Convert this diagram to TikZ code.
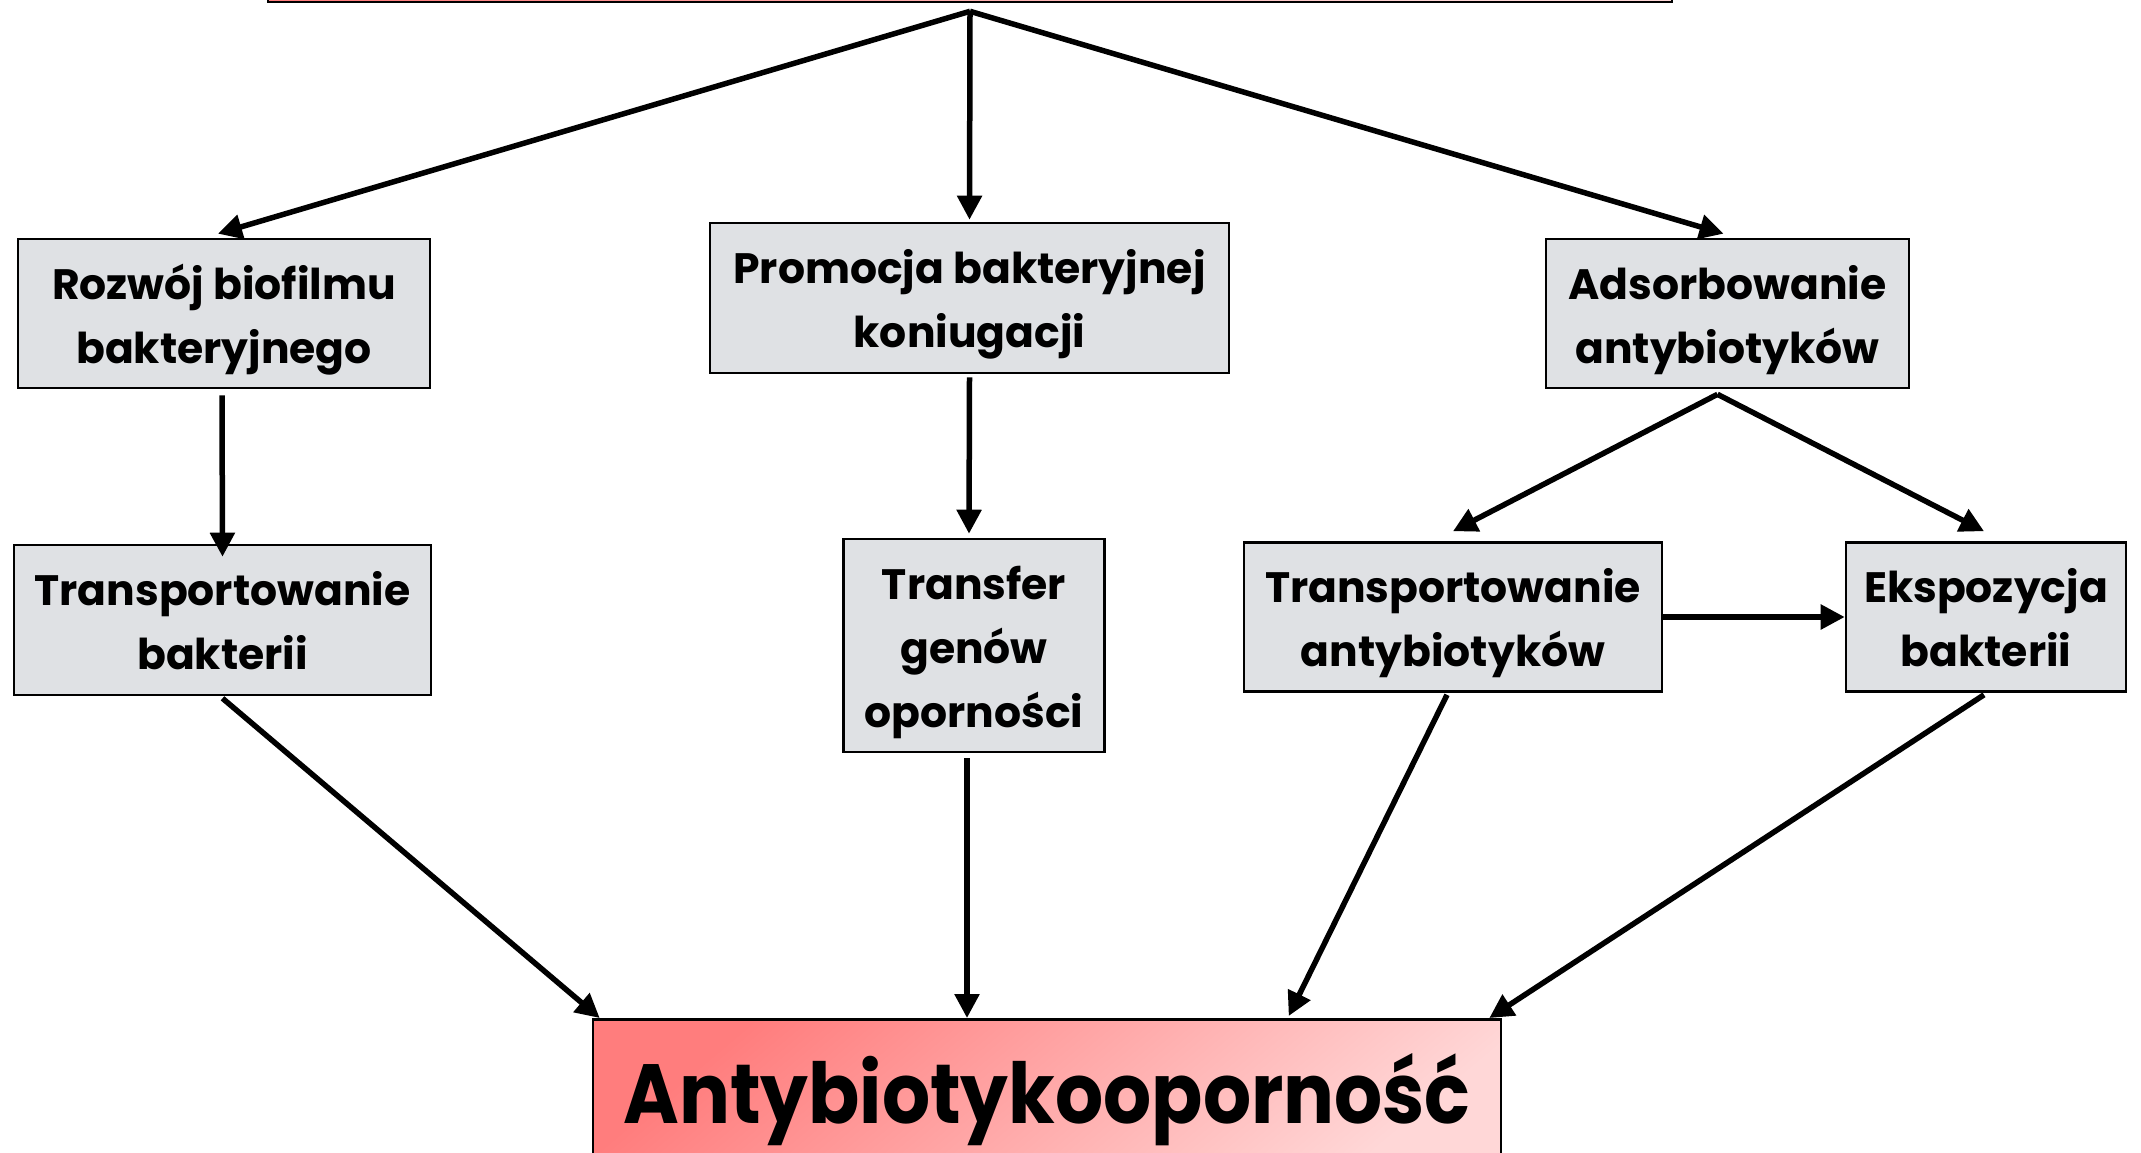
\documentclass[tikz,border=0pt]{standalone}
\usepackage{fontspec}
\setmainfont{Poppins}
\usetikzlibrary{arrows.meta,calc}
\definecolor{boxgray}{RGB}{223,225,228}
\definecolor{redA}{RGB}{255,125,125}
\definecolor{redB}{RGB}{255,215,215}
\newcommand\boxtxt[1]{\raisebox{-5pt}[\height][\depth]{\begin{tabular}{@{}c@{}}#1\end{tabular}}}
\tikzset{
  box/.style={draw=black, line width=2.6pt, fill=boxgray, inner sep=0pt,
    font=\bfseries\fontsize{42.5}{64}\selectfont},
  conn/.style={line width=5.5pt, -{Triangle[length=24pt,width=24pt]}},
  redbox/.style={draw=black, line width=2.6pt, shading=axis, top color=redA, bottom color=redB, shading angle=40}
}
\begin{document}
\begin{tikzpicture}[x=1pt,y=-1pt]
\useasboundingbox (0,0) rectangle (2141,1152);
\node[redbox, minimum width=1404pt, minimum height=110pt] (top) at (970,-53) {};
\node[box, minimum width=412pt, minimum height=149pt] (b1) at (224,313.5) {\boxtxt{Rozwój biofilmu\\bakteryjnego}};
\node[box, minimum width=519pt, minimum height=150pt] (b2) at (969.5,298) {\boxtxt{Promocja bakteryjnej\\koniugacji}};
\node[box, minimum width=363pt, minimum height=149pt] (b3) at (1727.5,313.5) {\boxtxt{Adsorbowanie\\antybiotyków}};
\node[box, minimum width=417pt, minimum height=150pt] (b4) at (222.5,620) {\boxtxt{Transportowanie\\bakterii}};
\node[box, minimum width=261pt, minimum height=213pt] (b5) at (974,645.5) {\boxtxt{Transfer\\genów\\oporności}};
\node[box, minimum width=418pt, minimum height=149pt] (b6) at (1453,617) {\boxtxt{Transportowanie\\antybiotyków}};
\node[box, minimum width=280pt, minimum height=149pt] (b7) at (1986,617) {\boxtxt{Ekspozycja\\bakterii}};
\node[redbox, anchor=north, minimum width=908pt, inner xsep=0pt, inner ysep=34pt,
  font=\bfseries\fontsize{84}{90}\selectfont] (bot) at (1047,1018) {\scalebox{0.9}[1]{Antybiotykooporność}};
\coordinate (src) at ($(top.south)+(0,8)$);
\draw[conn] (src) -- ($(b1.north)+(-6,-4)$);
\draw[conn] (src) -- ($(b2.north)+(0,-2)$);
\draw[conn] (src) -- ($(b3.north)+(-4,-4)$);
\draw[conn] ($(b1.south)+(-2,6)$) -- ($(b4.north)+(0,13)$);
\draw[conn] ($(b2.south)+(0,3)$) -- ($(b5.north)+(-5,-4)$);
\draw[conn] ($(b3.south)+(-10,5)$) -- ($(b6.north)+(0,-10)$);
\draw[conn] ($(b3.south)+(-10,5)$) -- ($(b7.north)+(-2,-10)$);
\draw[conn] (b6.east) -- (b7.west);
\draw[conn] ($(b4.south)+(0,2)$) -- ($(bot.north west)+(8,0)$);
\draw[conn] ($(b5.south)+(-7,5)$) -- ($(b5.south |- bot.north)+(-7,0)$);
\draw[conn] ($(b6.south)+(-6,2)$) -- ($(bot.north west)+(697,-2)$);
\draw[conn] ($(b7.south)+(-2,2)$) -- ($(bot.north east)+(-13,0)$);
\end{tikzpicture}
\end{document}
